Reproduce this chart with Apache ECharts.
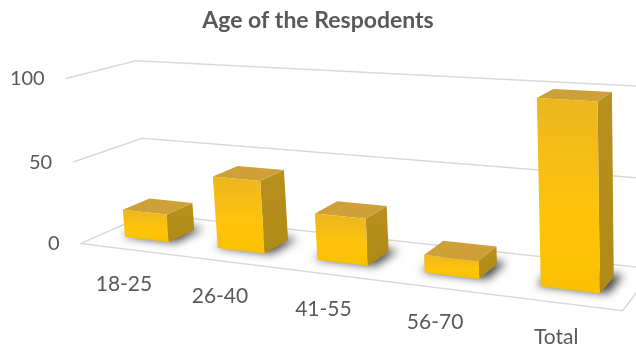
<!DOCTYPE html>
<html><head><meta charset="utf-8">
<script src="https://cdn.jsdelivr.net/npm/echarts@6/dist/echarts.min.js"></script>
<style>html,body{margin:0;padding:0;background:#fff}#c{width:636px;height:348px}</style>
</head><body><div id="c"></div>
<script>
const title = 'Age of the Respodents';
const categories = ['18-25', '26-40', '41-55', '56-70', 'Total'];
const values = [17, 43, 27, 10, 100];
const yTicks = [0, 50, 100];

// Layout: perspective frame anchors (X category units, Y axis fraction, Z depth 0 front..1 back) -> pixel
const anchors = [
  [0, 1, 0, 67, 77], [0, 0.5, 0, 73, 162], [0, 0, 0, 80, 244],
  [0, 1, 1, 135, 62], [0, 0.5, 1, 142, 138], [0, 0, 1, 149, 214],
  [5, 0, 0, 622, 312], [5, 0, 1, 655, 267], [5, 0.5, 1, 654.5, 180], [5, 1, 1, 654, 87]
];
function solveLin(M, r) {
  const n = r.length; const A = M.map((row, i) => row.concat([r[i]]));
  for (let c = 0; c < n; c++) {
    let p = c; for (let k = c + 1; k < n; k++) if (Math.abs(A[k][c]) > Math.abs(A[p][c])) p = k;
    const t = A[c]; A[c] = A[p]; A[p] = t;
    for (let k = c + 1; k < n; k++) { const f = A[k][c] / A[c][c]; for (let j = c; j <= n; j++) A[k][j] -= f * A[c][j]; }
  }
  const x = new Array(n).fill(0);
  for (let i = n - 1; i >= 0; i--) { let s = A[i][n]; for (let j = i + 1; j < n; j++) s -= A[i][j] * x[j]; x[i] = s / A[i][i]; }
  return x;
}
function fitP() {
  const rows = [], rhs = [];
  anchors.forEach(([X, Y, Z, u, v]) => {
    rows.push([X, Y, Z, 1, 0, 0, 0, 0, -u * X, -u * Y, -u * Z]); rhs.push(u);
    rows.push([0, 0, 0, 0, X, Y, Z, 1, -v * X, -v * Y, -v * Z]); rhs.push(v);
  });
  const n = 11, M = [], r = [];
  for (let i = 0; i < n; i++) {
    M.push(new Array(n).fill(0)); r.push(0);
    for (let k = 0; k < rows.length; k++) {
      r[i] += rows[k][i] * rhs[k];
      for (let j = 0; j < n; j++) M[i][j] += rows[k][i] * rows[k][j];
    }
  }
  return solveLin(M, r);
}
const P = fitP();
function proj(X, Y, Z) {
  const w = P[8] * X + P[9] * Y + P[10] * Z + 1;
  return [(P[0] * X + P[1] * Y + P[2] * Z + P[3]) / w, (P[4] * X + P[5] * Y + P[6] * Z + P[7]) / w];
}
// Convert library coordinates (hidden cartesian) to world units
function world(api, cat, val) {
  const bw = api.size([1, 0])[0];
  const o = api.coord([0, 0]);
  const top = api.coord([0, 100]);
  const p = api.coord([cat, val]);
  return { X: (p[0] - (o[0] - bw / 2)) / bw, Y: (o[1] - p[1]) / (o[1] - top[1]) };
}
const N = categories.length;
const GRID = '#D9D9D9';
const TXT = '#595959';
const FONT = 'Lato, "Open Sans", sans-serif';
const halfW = 0.24, Z0 = 0.3, Z1 = 0.7;
const OFF = 3000; // shadow-only trick: shape drawn off-canvas, its blurred shadow shifted back

const chart = echarts.init(document.getElementById('c'), null, { renderer: 'canvas' });
chart.setOption({
  animation: false,
  title: { text: title, left: 'center', top: 4, textStyle: { fontFamily: FONT, fontSize: 23, fontWeight: 'bold', color: TXT } },
  grid: { left: 0, top: 0, width: 500, height: 100, show: false },
  xAxis: { type: 'category', data: categories, show: false },
  yAxis: { type: 'value', min: 0, max: 100, interval: 50, show: false },
  series: [
    { // walls, gridlines and value labels
      type: 'custom', z: 1, silent: true,
      data: yTicks.map(t => [0, t]),
      renderItem: (params, api) => {
        const w = world(api, 0, api.value(1));
        const Y = w.Y;
        const a = proj(0, Y, 0), b = proj(0, Y, 1), c = proj(N, Y, 1);
        const children = [
          { type: 'polyline', shape: { points: [a, b, c] }, style: { stroke: GRID, lineWidth: 1.5, fill: null } },
          { type: 'text', x: a[0] - 21, y: a[1], style: { text: String(api.value(1)), fill: TXT, fontFamily: FONT, fontSize: 20, align: 'right', verticalAlign: 'middle' } }
        ];
        if (api.value(1) === yTicks[0]) {
          const d = proj(N, Y, 0);
          children.push({ type: 'polyline', shape: { points: [a, d, c] }, style: { stroke: GRID, lineWidth: 1.5, fill: null } });
        }
        return { type: 'group', children };
      }
    },
    { // category labels
      type: 'custom', z: 1, silent: true,
      data: categories.map((c, i) => [i, 0]),
      renderItem: (params, api) => {
        const w = world(api, api.value(0), 0);
        const p = proj(w.X, 0, 0);
        return { type: 'text', x: p[0] - 2, y: p[1] + 35, style: { text: categories[params.dataIndex], fill: TXT, fontFamily: FONT, fontSize: 21, align: 'center', verticalAlign: 'middle' } };
      }
    },
    { // soft floor shadows
      type: 'custom', z: 2, silent: true,
      data: values.map((v, i) => [i, v]),
      renderItem: (params, api) => {
        const w = world(api, api.value(0), 0);
        const x0 = w.X - halfW - 0.04, x1 = w.X + halfW + 0.06;
        const pts = [proj(x0, 0, Z0 + 0.02), proj(x1, 0, Z0 + 0.02), proj(x1, 0, Z1 + 0.06), proj(x0, 0, Z1 + 0.06)].map(q => [q[0] + OFF, q[1]]);
        return { type: 'polygon', shape: { points: pts }, style: { fill: '#000', shadowBlur: 10, shadowColor: 'rgba(0,0,0,0.75)', shadowOffsetX: -OFF, shadowOffsetY: 0 } };
      }
    },
    { // 3D bars
      type: 'custom', z: 3, silent: true,
      data: values.map((v, i) => [i, v]),
      renderItem: (params, api) => {
        const w = world(api, api.value(0), api.value(1));
        const x0 = w.X - halfW, x1 = w.X + halfW, Y = w.Y;
        const front = [proj(x0, 0, Z0), proj(x1, 0, Z0), proj(x1, Y, Z0), proj(x0, Y, Z0)];
        const top = [proj(x0, Y, Z0), proj(x1, Y, Z0), proj(x1, Y, Z1), proj(x0, Y, Z1)];
        const side = [proj(x1, 0, Z0), proj(x1, 0, Z1), proj(x1, Y, Z1), proj(x1, Y, Z0)];
        return {
          type: 'group', children: [
            { type: 'polygon', shape: { points: side }, style: { fill: { type: 'linear', x: 0, y: 0, x2: 0, y2: 1, colorStops: [{ offset: 0, color: '#B8901E' }, { offset: 1, color: '#B08A16' }] } } },
            { type: 'polygon', shape: { points: top }, style: { fill: '#CDA038' } },
            { type: 'polygon', shape: { points: front }, style: { fill: { type: 'linear', x: 0, y: 0, x2: 0, y2: 1, colorStops: [{ offset: 0, color: '#ECB620' }, { offset: 0.6, color: '#FFC40A' }, { offset: 1, color: '#F9C000' }] } } }
          ]
        };
      }
    }
  ]
});
</script></body></html>
